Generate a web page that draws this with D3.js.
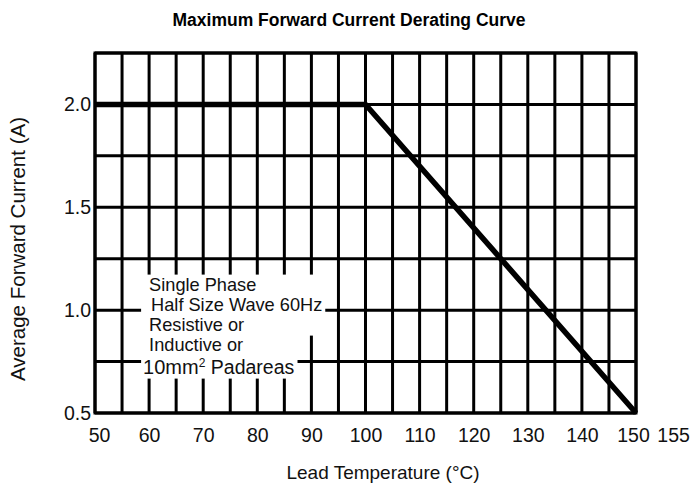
<!DOCTYPE html>
<html lang="en">
<head>
<meta charset="utf-8">
<title>Maximum Forward Current Derating Curve</title>
<script src="https://cdn.jsdelivr.net/npm/d3@7/dist/d3.min.js"></script>
<style>
  body { margin: 0; background: #fff; }
  svg { display: block; font-family: "Liberation Sans", Arial, sans-serif; }
  .tick text { fill: #111; }
</style>
</head>
<body>
<div id="chart"></div>
<script>
// data
var xLabels = [50, 60, 70, 80, 90, 100, 110, 120, 130, 140, 150, 155];
var yLabels = [0.5, 1.0, 1.5, 2.0];
var xGrid = d3.range(50, 151, 5);
var yGrid = [0.5, 0.75, 1.0, 1.25, 1.5, 1.75, 2.0, 2.25];
var curveTemp = [50, 100, 150];
var curveCurrent = [2.0, 2.0, 0.5];
var noteLines = ["Single Phase", "Half Size Wave 60Hz", "Resistive or", "Inductive or", "10mm|2| Padareas"];

var W = 694, H = 486;
var margin = {top: 53, right: 58, bottom: 73, left: 95};
var width = W - margin.left - margin.right;
var height = H - margin.top - margin.bottom;

var x = d3.scaleLinear().domain([50, 150]).range([0, width]);
var y = d3.scaleLinear().domain([0.5, 2.25]).range([height, 0]);

var svg = d3.select("#chart").append("svg")
    .attr("width", W)
    .attr("height", H);

var g = svg.append("g")
    .attr("transform", "translate(" + margin.left + "," + margin.top + ")");

// grid
g.selectAll("line.vgrid")
    .data(xGrid)
    .enter().append("line")
    .attr("class", "vgrid")
    .attr("x1", function(d) { return x(d); })
    .attr("x2", function(d) { return x(d); })
    .attr("y1", 0)
    .attr("y2", height)
    .attr("stroke", "#000")
    .attr("stroke-width", 3);

g.selectAll("line.hgrid")
    .data(yGrid)
    .enter().append("line")
    .attr("class", "hgrid")
    .attr("x1", 0)
    .attr("x2", width)
    .attr("y1", function(d) { return y(d); })
    .attr("y2", function(d) { return y(d); })
    .attr("stroke", "#000")
    .attr("stroke-width", 3);

// note box: white patches behind the text
var noteX = x(60), noteY = y(1.095), lineGap = 20;
var indent = [6, 8, 6, 6, 0];
var note = g.append("g");
var masks = note.append("g");
var texts = note.selectAll("text")
    .data(noteLines)
    .enter().append("text")
    .attr("x", function(d, i) { return noteX - 6 + indent[i]; })
    .attr("y", function(d, i) { return noteY + i * lineGap + (i == 4 ? 3 : 0); })
    .attr("font-size", function(d, i) { return i == 4 ? 19.5 : 18.2; })
    .attr("fill", "#111");

texts.each(function(d) {
    var parts = d.split("|");
    var t = d3.select(this);
    if (parts.length > 1) {
        t.append("tspan").attr("font-size", 20).text(parts[0]);
        t.append("tspan").attr("font-size", 12).attr("dy", -7).text(parts[1]);
        t.append("tspan").attr("dy", 7).text(parts[2]);
    } else {
        t.append("tspan").text(parts[0]);
    }
});

var boxes = [];
texts.each(function() { boxes.push(this.getBBox()); });
var minX = d3.min(boxes, function(b) { return b.x; });
function patch(from, to) {
    var sub = boxes.slice(from, to + 1);
    var x0 = minX - 2;
    var x1 = d3.max(sub, function(b) { return b.x + b.width; }) + 3;
    var y0 = d3.min(sub, function(b) { return b.y; });
    var y1 = d3.max(sub, function(b) { return b.y + b.height; }) + 1;
    masks.append("rect")
        .attr("x", x0).attr("y", y0)
        .attr("width", x1 - x0).attr("height", y1 - y0)
        .attr("fill", "#fff");
}
patch(0, 2);
patch(2, 4);

// derating curve
var line = d3.line()
    .x(function(d) { return x(d[0]); })
    .y(function(d) { return y(d[1]); });

g.append("path")
    .datum(d3.zip(curveTemp, curveCurrent))
    .attr("d", line)
    .attr("fill", "none")
    .attr("stroke", "#000")
    .attr("stroke-width", 5.5)
    .attr("stroke-linejoin", "miter");

// frame
g.append("rect")
    .attr("x", 0).attr("y", 0)
    .attr("width", width).attr("height", height)
    .attr("fill", "none")
    .attr("stroke", "#000")
    .attr("stroke-width", 3);

// axes
var xAxis = d3.axisBottom(x)
    .tickValues(xLabels)
    .tickSize(0)
    .tickPadding(15)
    .tickFormat(d3.format("d"));

var yAxis = d3.axisLeft(y)
    .tickValues(yLabels)
    .tickSize(0)
    .tickPadding(4)
    .tickFormat(d3.format(".1f"));

var gx = g.append("g")
    .attr("transform", "translate(0," + height + ")")
    .call(xAxis);
gx.select(".domain").remove();
gx.selectAll("text")
    .attr("font-size", 19.5)
    .attr("font-family", null)
    // the last two labels sit apart in the original
    .attr("dx", function(d) { return d == 155 ? 10 : d == 150 ? -3 : d == 50 ? 4 : 0; });

var gy = g.append("g").call(yAxis);
gy.select(".domain").remove();
gy.selectAll("text").attr("font-size", 19.5).attr("font-family", null);

// titles
svg.append("text")
    .attr("x", 349)
    .attr("y", 26)
    .attr("text-anchor", "middle")
    .attr("font-size", 17.5)
    .attr("font-weight", "bold")
    .attr("fill", "#000")
    .text("Maximum Forward Current Derating Curve");

svg.append("text")
    .attr("x", 383)
    .attr("y", 479)
    .attr("text-anchor", "middle")
    .attr("font-size", 19)
    .attr("fill", "#111")
    .text("Lead Temperature (°C)");

svg.append("text")
    .attr("transform", "translate(25,249) rotate(-90)")
    .attr("text-anchor", "middle")
    .attr("font-size", 20.5)
    .attr("fill", "#111")
    .text("Average Forward Current (A)");
</script>
</body>
</html>
